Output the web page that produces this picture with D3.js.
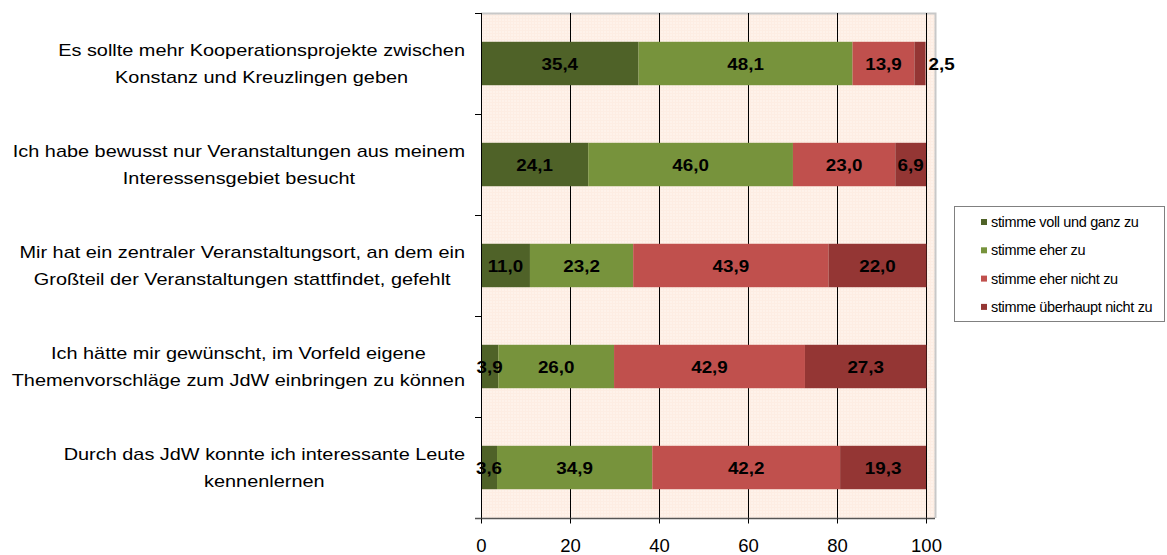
<!DOCTYPE html>
<html>
<head>
<meta charset="utf-8">
<script src="https://cdn.jsdelivr.net/npm/d3@7"></script>
<style>
  html, body { margin: 0; padding: 0; background: #fff; }
  svg { display: block; font-family: "Liberation Sans", Arial, sans-serif; }
</style>
</head>
<body>
<div id="chart"></div>
<script>
// categories (line-broken like the original)
const categories = [
    ["Es sollte mehr Kooperationsprojekte zwischen", "Konstanz und Kreuzlingen geben"],
    ["Ich habe bewusst nur Veranstaltungen aus meinem", "Interessensgebiet besucht"],
    ["Mir hat ein zentraler Veranstaltungsort, an dem ein", "Großteil der Veranstaltungen stattfindet, gefehlt"],
    ["Ich hätte mir gewünscht, im Vorfeld eigene", "Themenvorschläge zum JdW einbringen zu können"],
    ["Durch das JdW konnte ich interessante Leute", "kennenlernen"]
];

const seriesNames = ["stimme voll und ganz zu", "stimme eher zu", "stimme eher nicht zu", "stimme überhaupt nicht zu"];
const vollZu = [35.4, 24.1, 11.0, 3.9, 3.6];
const eherZu = [48.1, 46.0, 23.2, 26.0, 34.9];
const eherNicht = [13.9, 23.0, 43.9, 42.9, 42.2];
const ueberhauptNicht = [2.5, 6.9, 22.0, 27.3, 19.3];
const seriesColors = ["#4f6228", "#77933c", "#c0504d", "#943634"];
const xTicks = [0, 20, 40, 60, 80, 100];

const width = 1167;
const height = 555;
const plotLeft = 481, plotRight = 935, plotTop = 13, plotBottom = 518;

const svg = d3.select("#chart")
    .append("svg")
    .attr("width", width)
    .attr("height", height);

// table for the stack
const keys = ["k0", "k1", "k2", "k3"];
const rows = categories.map((c, i) => ({
    idx: i,
    k0: vollZu[i], k1: eherZu[i], k2: eherNicht[i], k3: ueberhauptNicht[i]
}));
const stacked = d3.stack().keys(keys)(rows);

const x = d3.scaleLinear().domain([0, 100]).range([plotLeft, 926]);
const y = d3.scaleBand()
    .domain(d3.range(categories.length))
    .range([plotTop, plotBottom])
    .paddingInner(0.57)
    .paddingOuter(0.285);
const step = y.step();

// plot background with the fine grid texture
const defs = svg.append("defs");
const pat = defs.append("pattern")
    .attr("id", "bgpat")
    .attr("width", 3).attr("height", 3)
    .attr("patternUnits", "userSpaceOnUse");
pat.append("rect").attr("width", 3).attr("height", 3).attr("fill", "#fef2ea");
pat.append("rect").attr("width", 3).attr("height", 1).attr("fill", "#fdede3");
pat.append("rect").attr("width", 1).attr("height", 3).attr("fill", "#fdede3");

svg.append("rect")
    .attr("x", plotLeft).attr("y", plotTop)
    .attr("width", plotRight - plotLeft).attr("height", plotBottom - plotTop)
    .attr("fill", "url(#bgpat)");

// gray plot border (top and right)
svg.append("path")
    .attr("d", `M${plotLeft},${plotTop + 0.5}H${plotRight + 0.5}V${plotBottom}`)
    .attr("fill", "none")
    .attr("stroke", "#c8c8c8")
    .attr("stroke-width", 2);

// vertical gridlines
svg.append("g")
    .selectAll("line")
    .data(xTicks.slice(1))
    .join("line")
    .attr("x1", d => Math.round(x(d)) + 0.5)
    .attr("x2", d => Math.round(x(d)) + 0.5)
    .attr("y1", plotTop)
    .attr("y2", plotBottom)
    .attr("stroke", "#000")
    .attr("stroke-width", 1);

// bars
const layers = svg.append("g")
    .selectAll("g")
    .data(stacked)
    .join("g")
    .attr("fill", (d, i) => seriesColors[i]);

layers.selectAll("rect")
    .data(d => d)
    .join("rect")
    .attr("x", d => x(d[0]))
    .attr("width", d => x(d[1]) - x(d[0]))
    .attr("y", d => y(d.data.idx))
    .attr("height", y.bandwidth());

// value labels
const sxVal = 1.14;
const valFmt = v => d3.format(".1f")(v).replace(".", ",");
const labels = [];
stacked.forEach((layer, si) => {
    layer.forEach(d => {
        const v = d[1] - d[0];
        const small = si === 3 && v < 3;
        labels.push({
            text: valFmt(d.data[keys[si]]),
            x: small ? x(d[1]) + 3 : (x(d[0]) + x(d[1])) / 2,
            y: y(d.data.idx) + y.bandwidth() / 2 + 6,
            anchor: small ? "start" : "middle"
        });
    });
});
svg.append("g")
    .selectAll("text")
    .data(labels)
    .join("text")
    .attr("transform", d => `translate(${d.x},${d.y}) scale(${sxVal},1)`)
    .attr("text-anchor", d => d.anchor)
    .attr("font-size", 16.5)
    .attr("font-weight", "bold")
    .attr("fill", "#000")
    .text(d => d.text);

// y axis line and ticks
const yAxis = svg.append("g").attr("stroke", "#000");
yAxis.append("line")
    .attr("x1", plotLeft + 0.5).attr("x2", plotLeft + 0.5)
    .attr("y1", plotTop).attr("y2", plotBottom);
yAxis.selectAll("line.tick")
    .data(d3.range(categories.length + 1))
    .join("line")
    .attr("class", "tick")
    .attr("x1", plotLeft - 6).attr("x2", plotLeft)
    .attr("y1", d => Math.round(plotTop + d * step) + 0.5)
    .attr("y2", d => Math.round(plotTop + d * step) + 0.5);

// x axis
const xAxis = d3.axisBottom(x)
    .tickValues(xTicks)
    .tickSize(5)
    .tickPadding(15)
    .tickFormat(d3.format("d"));
const gx = svg.append("g")
    .attr("transform", `translate(0,${plotBottom + 0.5})`)
    .call(xAxis);
gx.select(".domain").attr("d", `M${plotLeft - 6},0H${plotRight}`).attr("stroke", "#555").attr("stroke-width", 1.5);
gx.selectAll(".tick line").attr("stroke", "#000");
gx.selectAll(".tick text")
    .attr("font-size", 18.5)
    .attr("font-family", "'Liberation Sans', Arial, sans-serif")
    .attr("fill", "#000");

// category labels, right-aligned block with centered lines
const sxCat = 1.17;
const catG = svg.append("g");
categories.forEach((lines, i) => {
    const cy = y(i) + y.bandwidth() / 2;
    const g = catG.append("g");
    const texts = lines.map((ln, li) => g.append("text")
        .attr("font-size", 17)
        .attr("text-anchor", "middle")
        .attr("fill", "#000")
        .text(ln));
    const maxW = d3.max(texts, t => t.node().getComputedTextLength()) * sxCat;
    const cx = 465 - maxW / 2;
    const lh = 27;
    texts.forEach((t, li) => {
        const ty = cy + 6 + (li - (lines.length - 1) / 2) * lh;
        t.attr("transform", `translate(${cx},${ty}) scale(${sxCat},1)`);
    });
});

// legend
const legend = svg.append("g");
legend.append("rect")
    .attr("x", 954.5).attr("y", 206.5)
    .attr("width", 210).attr("height", 115)
    .attr("fill", "#fff")
    .attr("stroke", "#808080")
    .attr("stroke-width", 1);
const items = legend.selectAll("g.item")
    .data(seriesNames)
    .join("g")
    .attr("class", "item")
    .attr("transform", (d, i) => `translate(981,${222 + i * 28.3})`);
items.append("rect")
    .attr("x", 0).attr("y", -3)
    .attr("width", 6).attr("height", 6)
    .attr("fill", (d, i) => seriesColors[i]);
items.append("text")
    .attr("x", 10).attr("y", 5)
    .attr("font-size", 14.5)
    .attr("letter-spacing", -0.35)
    .attr("fill", "#000")
    .text(d => d);
</script>
</body>
</html>
